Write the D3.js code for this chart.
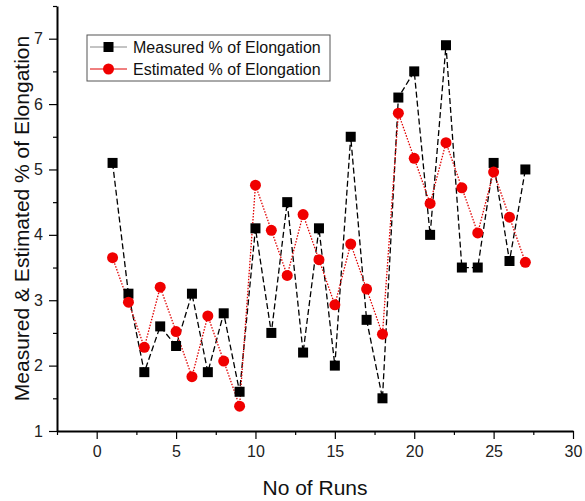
<!DOCTYPE html>
<html>
<head>
<meta charset="utf-8">
<script src="https://cdn.jsdelivr.net/npm/d3@7"></script>
<style>
  body { margin: 0; background: #fff; }
  text { font-family: Arial, "Liberation Sans", sans-serif; }
</style>
</head>
<body>
<div id="chart"></div>
<script>
// runs 1..27
var runs = d3.range(1, 28);

var measured = [5.1, 3.1, 1.9, 2.6, 2.3, 3.1, 1.9, 2.8, 1.6, 4.1,
                2.5, 4.5, 2.2, 4.1, 2.0, 5.5, 2.7, 1.5, 6.1, 6.5,
                4.0, 6.9, 3.5, 3.5, 5.1, 3.6, 5.0];

var estimated = [3.65, 2.97, 2.28, 3.2, 2.52, 1.83, 2.76, 2.07, 1.38, 4.76,
                 4.07, 3.38, 4.31, 3.62, 2.93, 3.86, 3.17, 2.48, 5.86, 5.17,
                 4.48, 5.41, 4.72, 4.03, 4.96, 4.27, 3.58];

var xTicks = [0, 5, 10, 15, 20, 25, 30];
var yTicks = [1, 2, 3, 4, 5, 6, 7];

var width = 585,
    height = 501,
    margin = {top: 6, right: 12, bottom: 70, left: 57};

var svg = d3.select("#chart").append("svg")
    .attr("width", width)
    .attr("height", height);

var x = d3.scaleLinear()
    .domain([-2.5, 30])
    .range([margin.left, width - margin.right]);

var y = d3.scaleLinear()
    .domain([1, 7.5])
    .range([height - margin.bottom, margin.top]);

var g = svg.append("g");

// minor ticks first
g.append("g")
    .attr("transform", "translate(0," + y(1) + ")")
    .call(d3.axisBottom(x).tickValues(d3.range(-2.5, 30, 5)).tickSize(4).tickFormat(""))
    .call(a => a.select(".domain").remove());

g.append("g")
    .attr("transform", "translate(" + x(-2.5) + ",0)")
    .call(d3.axisLeft(y).tickValues(d3.range(1.5, 7.6, 1)).tickSize(4).tickFormat(""))
    .call(a => a.select(".domain").remove());

var xAxis = g.append("g")
    .attr("transform", "translate(0," + y(1) + ")")
    .call(d3.axisBottom(x).tickValues(xTicks).tickSize(8).tickSizeOuter(0)
      .tickFormat(d3.format("d")).tickPadding(7));

var yAxis = g.append("g")
    .attr("transform", "translate(" + x(-2.5) + ",0)")
    .call(d3.axisLeft(y).tickValues(yTicks).tickSize(8).tickSizeOuter(0)
      .tickFormat(d3.format("d")).tickPadding(6));

svg.selectAll(".domain").attr("stroke-width", 2).attr("stroke", "#000");
svg.selectAll(".tick line").attr("stroke-width", 1.2).attr("stroke", "#000");
svg.selectAll(".tick text")
    .attr("font-size", 16)
    .attr("fill", "#222")
    .style("font-family", "Arial, 'Liberation Sans', sans-serif");

// lines
var line = d3.line()
    .x((d, i) => x(runs[i]))
    .y(d => y(d));

svg.append("path")
    .datum(measured)
    .attr("d", line)
    .attr("fill", "none")
    .attr("stroke", "#000")
    .attr("stroke-width", 1.3)
    .attr("stroke-dasharray", "6,3");

svg.append("path")
    .datum(estimated)
    .attr("d", line)
    .attr("fill", "none")
    .attr("stroke", "#e00000")
    .attr("stroke-width", 1.3)
    .attr("stroke-dasharray", "1.5,1.5");

// markers
svg.selectAll("rect.m")
    .data(measured)
  .enter().append("rect")
    .attr("class", "m")
    .attr("x", (d, i) => x(runs[i]) - 5)
    .attr("y", d => y(d) - 5)
    .attr("width", 10)
    .attr("height", 10)
    .attr("fill", "#000");

svg.selectAll("circle.e")
    .data(estimated)
  .enter().append("circle")
    .attr("class", "e")
    .attr("cx", (d, i) => x(runs[i]))
    .attr("cy", d => y(d))
    .attr("r", 5.5)
    .attr("fill", "#f00000");

// legend
var legend = svg.append("g").attr("transform", "translate(87,35)");
legend.append("rect")
    .attr("width", 243)
    .attr("height", 46)
    .attr("fill", "#fff")
    .attr("stroke", "#555")
    .attr("stroke-width", 1);

var items = [
  {name: "Measured % of Elongation", color: "#000", lineColor: "#888", shape: "square"},
  {name: "Estimated % of Elongation", color: "#f00000", lineColor: "#e00000", shape: "circle"}
];

items.forEach(function(it, i) {
  var yy = 12 + i * 22;
  legend.append("line")
    .attr("x1", 3).attr("x2", 40)
    .attr("y1", yy).attr("y2", yy)
    .attr("stroke", it.lineColor)
    .attr("stroke-width", 1);
  if (it.shape == "square") {
    legend.append("rect")
      .attr("x", 21.5 - 5).attr("y", yy - 5)
      .attr("width", 10).attr("height", 10)
      .attr("fill", it.color);
  } else {
    legend.append("circle")
      .attr("cx", 21.5).attr("cy", yy)
      .attr("r", 5.5)
      .attr("fill", it.color);
  }
  legend.append("text")
    .attr("x", 46)
    .attr("y", yy + 6)
    .attr("font-size", 16)
    .attr("fill", "#111")
    .text(it.name);
});

// axis titles
svg.append("text")
    .attr("x", (x(-2.5) + x(30)) / 2)
    .attr("y", 495)
    .attr("text-anchor", "middle")
    .attr("font-size", 21)
    .attr("fill", "#111")
    .text("No of Runs");

svg.append("text")
    .attr("transform", "translate(29," + (y(1) + y(7.5)) / 2 + ") rotate(-90)")
    .attr("text-anchor", "middle")
    .attr("font-size", 21)
    .attr("fill", "#111")
    .text("Measured & Estimated % of Elongation");
</script>
</body>
</html>
